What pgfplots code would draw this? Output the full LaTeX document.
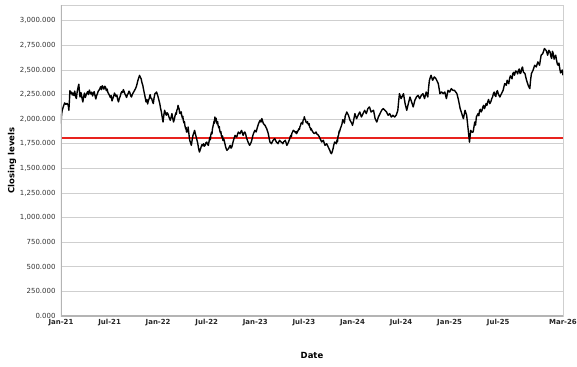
\documentclass[border=0pt]{standalone}
\usepackage{fontspec}
\setmainfont{DejaVu Sans}
\usepackage{pgfplots}
\pgfplotsset{compat=1.18}
\definecolor{gridgray}{HTML}{CFCFCF}
\definecolor{axgray}{HTML}{B4B4B4}
\definecolor{refline}{HTML}{E8231E}
\begin{document}
\begin{tikzpicture}
\begin{axis}[
  scale only axis,
  width=502bp, height=311bp,
  xmin=0, xmax=62, ymin=0, ymax=3160,
  xtick={0,6,12,18,24,30,36,42,48,54,62},
  xticklabels={Jan-21,Jul-21,Jan-22,Jul-22,Jan-23,Jul-23,Jan-24,Jul-24,Jan-25,Jul-25,Mar-26},
  ytick={0,250,500,750,1000,1250,1500,1750,2000,2250,2500,2750,3000},
  /pgf/number format/assume math mode=true,
  yticklabel style={/pgf/number format/fixed,/pgf/number format/fixed zerofill,/pgf/number format/precision=3,/pgf/number format/1000 sep={,},font=\fontsize{7}{8}\selectfont,text=black!80,xshift=-2bp},
  xticklabel style={font=\fontsize{7}{8}\selectfont\bfseries,text=black!85},
  major tick length=0pt,
  ymajorgrids, grid style={gridgray, line width=0.9bp},
  axis line style={gridgray, line width=0.8bp},
  xlabel={Date}, ylabel={Closing levels},
  xlabel style={font=\fontsize{8.5}{10}\selectfont\bfseries, at={(axis description cs:0.5,-0.1254)}, anchor=center},
  ylabel style={font=\fontsize{8.5}{10}\selectfont\bfseries, at={(axis description cs:-0.0976,0.5)}, anchor=center},
  clip=true,
]
\addplot[color=refline, line width=1.5bp] coordinates {(0,1810) (62,1810)};
\addplot[black, line width=1.4bp, line join=round] coordinates {
(0,1955) (0.08,2050) (0.15,2090) (0.3,2130) (0.45,2165) (0.6,2150) (0.75,2160) (0.9,2140) (0.97,2090)
(1.05,2200) (1.1,2290) (1.2,2260) (1.3,2275) (1.4,2245) (1.5,2265) (1.6,2240) (1.7,2285) (1.8,2230) (1.9,2210)
(2.0,2280) (2.1,2320) (2.2,2355) (2.28,2280) (2.35,2225) (2.45,2270) (2.5,2260) (2.6,2210) (2.7,2175) (2.8,2230) (2.9,2265)
(3.0,2220) (3.1,2245) (3.2,2265) (3.3,2280) (3.4,2250) (3.5,2295) (3.6,2270) (3.7,2255) (3.8,2275) (3.9,2235)
(4.0,2260) (4.1,2280) (4.2,2240) (4.3,2205) (4.4,2240) (4.5,2260) (4.6,2285) (4.7,2295) (4.8,2310) (4.9,2330)
(5.0,2300) (5.1,2340) (5.2,2320) (5.3,2305) (5.4,2335) (5.5,2325) (5.6,2290) (5.7,2305) (5.8,2270) (5.9,2255)
(6.0,2240) (6.1,2220) (6.2,2240) (6.3,2185) (6.4,2210) (6.5,2230) (6.6,2265) (6.7,2250) (6.8,2230) (6.9,2245)
(7.0,2200) (7.1,2175) (7.2,2210) (7.3,2230) (7.4,2260) (7.5,2280) (7.6,2270) (7.7,2300) (7.8,2280) (7.9,2255)
(8.0,2240) (8.1,2220) (8.2,2250) (8.3,2260) (8.4,2285) (8.5,2270) (8.6,2240) (8.7,2225) (8.8,2250) (8.9,2265)
(9.0,2280) (9.1,2295) (9.2,2310) (9.3,2330) (9.4,2360) (9.5,2395) (9.6,2420) (9.7,2445) (9.8,2425) (9.9,2410)
(10.0,2370) (10.1,2345) (10.2,2300) (10.3,2260) (10.4,2220) (10.5,2175) (10.6,2200) (10.7,2155) (10.8,2190) (10.9,2210)
(11.0,2250) (11.1,2215) (11.2,2209) (11.3,2180) (11.4,2158) (11.5,2220) (11.6,2259) (11.7,2265) (11.8,2276) (11.9,2250)
(12.0,2225) (12.1,2190) (12.2,2158) (12.3,2110) (12.4,2073) (12.5,2020) (12.6,1971) (12.7,2040) (12.8,2090) (12.9,2060)
(13.0,2040) (13.1,2065) (13.2,2056) (13.3,2030) (13.5,1988) (13.6,2020) (13.7,2056) (13.8,2010) (13.9,1971)
(14.0,2000) (14.1,2040) (14.2,2065) (14.25,2050) (14.3,2090) (14.4,2105) (14.45,2140) (14.5,2124) (14.6,2100) (14.65,2060) (14.7,2073) (14.8,2055) (14.85,2075) (14.9,2040)
(15.0,2010) (15.05,2030) (15.1,1988) (15.2,1960) (15.25,1975) (15.3,1937) (15.4,1900) (15.45,1915) (15.5,1869) (15.6,1895) (15.65,1870) (15.7,1920) (15.8,1850) (15.85,1810) (15.9,1784)
(16.0,1760) (16.1,1734) (16.2,1790) (16.3,1835) (16.4,1860) (16.5,1886) (16.6,1850) (16.7,1818) (16.8,1785) (16.9,1750)
(17.0,1700) (17.1,1666) (17.2,1690) (17.3,1717) (17.4,1740) (17.5,1730) (17.6,1750) (17.7,1725) (17.8,1734) (17.9,1760)
(18.0,1767) (18.1,1745) (18.2,1734) (18.3,1780) (18.4,1818) (18.45,1790) (18.5,1840) (18.6,1869) (18.65,1850) (18.7,1900) (18.8,1937) (18.85,1955) (18.9,1980) (18.95,1960)
(19.0,2022) (19.1,1995) (19.15,2010) (19.2,1971) (19.3,1950) (19.35,1975) (19.4,1937) (19.5,1910) (19.55,1925) (19.6,1886) (19.7,1860) (19.75,1875) (19.8,1835) (19.9,1810) (19.95,1830)
(20.0,1784) (20.1,1800) (20.2,1767) (20.3,1730) (20.4,1700) (20.5,1683) (20.6,1695) (20.7,1700) (20.8,1720) (20.9,1734)
(21.0,1705) (21.1,1717) (21.2,1750) (21.3,1784) (21.4,1810) (21.5,1835) (21.6,1825) (21.7,1818) (21.8,1845) (21.9,1869)
(22.0,1860) (22.1,1852) (22.2,1870) (22.3,1886) (22.4,1860) (22.5,1835) (22.6,1860) (22.7,1870) (22.8,1850) (22.9,1815)
(23.0,1790) (23.1,1768) (23.2,1750) (23.3,1734) (23.4,1750) (23.5,1768) (23.6,1800) (23.7,1836) (23.8,1860) (23.95,1887)
(24.1,1870) (24.2,1900) (24.3,1930) (24.4,1955) (24.5,1975) (24.6,1989) (24.7,1970) (24.8,2006) (24.9,1980)
(25.0,1955) (25.1,1945) (25.2,1938) (25.3,1920) (25.4,1904) (25.5,1880) (25.6,1853) (25.7,1810) (25.8,1768) (25.9,1760)
(26.0,1751) (26.1,1770) (26.2,1785) (26.3,1795) (26.4,1802) (26.5,1785) (26.6,1768) (26.7,1760) (26.8,1751) (26.9,1770)
(27.0,1785) (27.1,1775) (27.2,1768) (27.3,1760) (27.4,1751) (27.5,1770) (27.7,1785) (27.8,1760) (27.9,1734)
(28.0,1750) (28.1,1768) (28.2,1790) (28.25,1800) (28.3,1819) (28.4,1835) (28.45,1820) (28.5,1853) (28.6,1870) (28.65,1880) (28.7,1887) (28.8,1878) (28.9,1870)
(29.0,1860) (29.05,1875) (29.1,1853) (29.2,1870) (29.3,1887) (29.4,1905) (29.45,1895) (29.5,1921) (29.6,1940) (29.65,1960) (29.7,1955) (29.8,1970) (29.85,1950) (29.9,1989)
(30.0,2000) (30.05,2025) (30.1,2006) (30.2,1990) (30.25,1970) (30.3,1972) (30.4,1960) (30.45,1975) (30.5,1955) (30.6,1940) (30.65,1955) (30.7,1921) (30.8,1910) (30.85,1890) (30.9,1904)
(31.0,1885) (31.1,1870) (31.2,1860) (31.3,1853) (31.5,1870) (31.6,1850) (31.8,1836) (31.9,1820)
(32.0,1802) (32.1,1785) (32.2,1768) (32.4,1785) (32.5,1760) (32.6,1734) (32.8,1751) (32.9,1735)
(33.0,1717) (33.1,1700) (33.2,1683) (33.3,1660) (33.4,1649) (33.5,1670) (33.6,1700) (33.7,1740) (33.8,1768)
(34.0,1751) (34.1,1790) (34.15,1770) (34.2,1819) (34.3,1845) (34.35,1880) (34.4,1870) (34.5,1904) (34.6,1925) (34.7,1950) (34.8,1995) (34.9,1988)
(35.0,1960) (35.1,2030) (35.2,2050) (35.3,2073) (35.5,2040) (35.7,1988) (35.9,1960) (36.0,1937) (36.1,1971) (36.3,2056) (36.5,2005) (36.7,2040) (36.9,2073)
(37.1,2022) (37.3,2056) (37.5,2090) (37.7,2056) (37.9,2107) (38.1,2124) (38.3,2073) (38.6,2090) (38.8,2005)
(39.0,1971) (39.2,2022) (39.4,2056) (39.6,2090) (39.8,2107) (40.0,2090) (40.2,2073) (40.4,2040) (40.6,2056) (40.8,2022)
(41.0,2040) (41.2,2022) (41.4,2040) (41.6,2090) (41.7,2180) (41.8,2259) (42.0,2209) (42.3,2259) (42.5,2158) (42.7,2090) (42.9,2158)
(43.1,2225) (43.3,2175) (43.5,2124) (43.7,2191) (43.9,2225) (44.1,2242) (44.3,2209) (44.5,2242) (44.7,2259) (44.9,2209)
(45.1,2276) (45.3,2225) (45.4,2320) (45.5,2395) (45.7,2446) (45.9,2395) (46.1,2429) (46.3,2412) (46.5,2378) (46.6,2361) (46.8,2259)
(47.0,2276) (47.2,2259) (47.4,2276) (47.6,2209) (47.8,2293) (48.0,2276) (48.2,2310) (48.4,2293) (48.6,2293) (48.9,2259)
(49.1,2191) (49.3,2107) (49.5,2056) (49.7,2005) (49.9,2090) (50.1,2040) (50.3,1886) (50.45,1767) (50.6,1886) (50.75,1869) (50.9,1869)
(51.1,1971) (51.2,1940) (51.3,2022) (51.4,2040) (51.5,2056) (51.6,2035) (51.7,2090) (51.8,2100) (51.9,2073) (52.0,2090) (52.1,2124) (52.2,2140) (52.3,2107) (52.4,2130) (52.5,2158) (52.6,2140) (52.7,2175) (52.8,2200) (52.96,2158)
(53.1,2180) (53.2,2209) (53.3,2225) (53.4,2259) (53.5,2275) (53.6,2242) (53.7,2230) (53.8,2276) (53.9,2290) (54.0,2259) (54.2,2225) (54.4,2259) (54.6,2293) (54.8,2361)
(55.0,2344) (55.1,2395) (55.2,2378) (55.3,2360) (55.4,2412) (55.5,2440) (55.6,2429) (55.7,2410) (55.8,2463) (55.9,2475) (56.0,2446) (56.15,2490) (56.3,2480) (56.4,2460) (56.5,2497) (56.6,2510) (56.7,2463) (56.8,2470) (56.9,2514) (57.0,2530)
(57.1,2480) (57.3,2463) (57.5,2395) (57.7,2344) (57.9,2310) (58.0,2400) (58.1,2463) (58.3,2497) (58.5,2548) (58.7,2531) (58.9,2582)
(59.1,2548) (59.3,2650) (59.5,2666) (59.7,2717) (59.9,2700) (60.0,2680) (60.1,2650) (60.25,2700) (60.4,2683) (60.5,2640) (60.6,2616) (60.7,2690) (60.8,2666) (60.9,2610)
(61.0,2633) (61.1,2650) (61.2,2599) (61.3,2560) (61.4,2548) (61.5,2570) (61.6,2514) (61.7,2470) (61.8,2480) (61.9,2500) (62.0,2446)
};
\draw[axgray, line width=2bp] (rel axis cs:0,1) -- (rel axis cs:0,0) -- (rel axis cs:1,0);
\end{axis}
\pgfresetboundingbox
\useasboundingbox ([xshift=-61bp,yshift=-51bp]current axis.south west) rectangle ([xshift=14bp,yshift=5bp]current axis.north east);
\end{tikzpicture}
\end{document}
